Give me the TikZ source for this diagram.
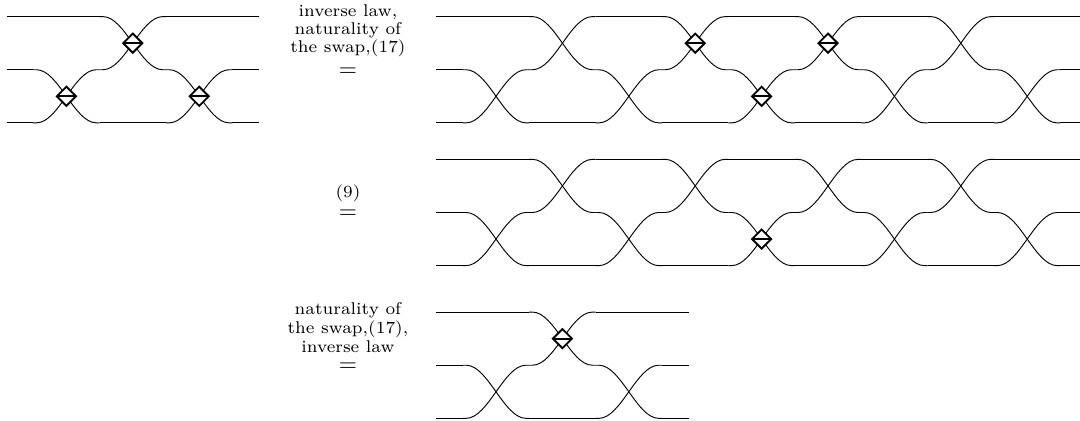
\documentclass[tikz,border=0pt]{standalone}
\usepackage{amsmath}
\usepackage{tikz}
\usetikzlibrary{shapes.geometric}

% one swap of two neighbouring wires (#2 = upper one), wire #3 runs straight
\newcommand{\xing}[3]{%
  \draw (#1-0.5,#2) -- (#1-0.45,#2) .. controls +(0.33,0) and +(-0.33,0) .. (#1+0.45,#2-0.8) -- (#1+0.5,#2-0.8);
  \draw (#1-0.5,#2-0.8) -- (#1-0.45,#2-0.8) .. controls +(0.33,0) and +(-0.33,0) .. (#1+0.45,#2) -- (#1+0.5,#2);
  \draw (#1-0.5,#3) -- (#1+0.5,#3);
}

\begin{document}
\begin{tikzpicture}[
    gate/.style={diamond, draw, thick, fill=white, inner sep=0pt, minimum size=0.3cm,
      path picture={\draw[thick] (path picture bounding box.west) -- (path picture bounding box.east);}},
    eqsign/.style={anchor=base, yshift=-2.5pt, inner sep=0pt},
    reason/.style={align=center, inner sep=0pt, font=\fontsize{7.3}{6.4}\selectfont}]
  \useasboundingbox (0,0) rectangle (16.265,-6.34);

  % Left-hand side
  \foreach \y in {-0.25,-1.05,-1.85} {
    \draw (0.1,\y) -- (0.5,\y);
    \draw (3.5,\y) -- (3.9,\y);
  }
  \xing{1}{-1.05}{-0.25}
  \xing{2}{-0.25}{-1.85}
  \xing{3}{-1.05}{-0.25}
  \node[gate] (lhsA) at (1,-1.45) {};
  \node[gate] (lhsB) at (2,-0.65) {};
  \node[gate] (lhsC) at (3,-1.45) {};

  % Equal signs with their reasons
  \node[eqsign] (eqA) at (5.24,-1.07) {$=$};
  \node[reason] (whyA) at (5.24,-0.463) {inverse law,\\naturality of\\the swap,(17)};
  \node[eqsign] (eqB) at (5.24,-3.2) {$=$};
  \node[reason] (whyB) at (5.24,-2.91) {(9)};
  \node[eqsign] (eqC) at (5.24,-5.5) {$=$};
  \node[reason, font=\fontsize{7.3}{8.1}\selectfont] (whyC) at (5.24,-4.934) {naturality of\\the swap,(17),\\inverse law};

  % First step
  \foreach \y in {-0.25,-1.05,-1.85} {
    \draw (6.57,\y) -- (6.97,\y);
    \draw (15.97,\y) -- (16.265,\y);
  }
  \foreach \k in {0,2,4,6,8} {\xing{7.47+\k}{-1.05}{-0.25}}
  \foreach \k in {1,3,5,7} {\xing{7.47+\k}{-0.25}{-1.85}}
  \node[gate] (oneA) at (10.47,-0.65) {};
  \node[gate] (oneB) at (11.47,-1.45) {};
  \node[gate] (oneC) at (12.47,-0.65) {};

  % Second step
  \foreach \y in {-2.4,-3.2,-4.0} {
    \draw (6.57,\y) -- (6.97,\y);
    \draw (15.97,\y) -- (16.265,\y);
  }
  \foreach \k in {0,2,4,6,8} {\xing{7.47+\k}{-3.2}{-2.4}}
  \foreach \k in {1,3,5,7} {\xing{7.47+\k}{-2.4}{-4.0}}
  \node[gate] (twoA) at (11.47,-3.6) {};

  % Result
  \foreach \y in {-4.7,-5.5,-6.3} {
    \draw (6.57,\y) -- (6.97,\y);
    \draw (9.97,\y) -- (10.37,\y);
  }
  \xing{7.47}{-5.5}{-4.7}
  \xing{8.47}{-4.7}{-6.3}
  \xing{9.47}{-5.5}{-4.7}
  \node[gate] (resA) at (8.47,-5.1) {};
\end{tikzpicture}
\end{document}
